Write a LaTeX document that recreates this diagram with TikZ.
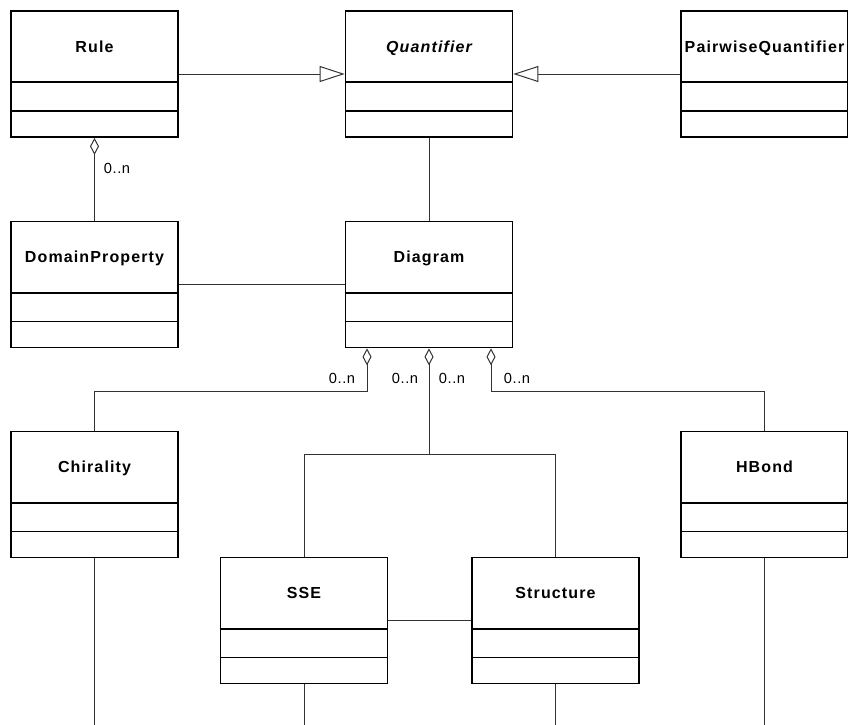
\documentclass[tikz,border=0pt]{standalone}
\usepackage{fontspec}
\setmainfont{Liberation Sans}
\newfontfamily\classfont[LetterSpace=7]{Liberation Sans}
\newfontfamily\multfont[LetterSpace=4]{Liberation Sans}
\usetikzlibrary{arrows.meta}

% class box: name, x, y, title
\newcommand{\classbox}[4]{%
  \node[umlclass] (#1) at (#2,#3) {};
  \node[classname] (#1-name) at ([yshift=-31.5pt]#1.north) {#4};
  \draw[line width=1.3pt]
    ([yshift=-54pt]#1.north west) -- ([yshift=-54pt]#1.north east)
    ([yshift=20.25pt]#1.south west) -- ([yshift=20.25pt]#1.south east);
}

\begin{document}
\begin{tikzpicture}[x=0.75pt, y=-0.75pt,
  umlclass/.style={draw, line width=1.3pt, minimum width=125.25pt,
    minimum height=94.5pt, inner sep=0pt},
  classname/.style={anchor=base, font=\classfont\bfseries\fontsize{12}{14}\selectfont},
  assoc/.style={draw=black!80, line width=0.75pt},
  inherit/.style={assoc, -{Triangle[open, length=18.75pt, width=12pt]}},
  aggreg/.style={assoc, {Diamond[open, length=12.75pt, width=6.75pt]}-},
  mult/.style={anchor=base, font=\multfont\fontsize{11}{13}\selectfont}]

  \useasboundingbox (0,0) rectangle (848,724);

  % classes
  \classbox{rule}{94.5}{74}{Rule}
  \classbox{quant}{429}{74}{\itshape Quantifier}
  \classbox{pairq}{764.5}{74}{PairwiseQuantifier}
  \classbox{domain}{94.5}{284.5}{DomainProperty}
  \classbox{diagram}{429}{284.5}{Diagram}
  \classbox{chir}{94.5}{494.5}{Chirality}
  \classbox{hbond}{764.5}{494.5}{HBond}
  \classbox{sse}{304}{620.5}{SSE}
  \classbox{struct}{555.5}{620.5}{Structure}

  % generalisation
  \draw[inherit] (rule.east) -- (quant.west);
  \draw[inherit] (pairq.west) -- (quant.east);

  % associations
  \draw[assoc] (quant.south) -- (diagram.north);
  \draw[assoc] (domain.east) -- (diagram.west);
  \draw[assoc] (sse.east) -- (struct.west);

  % aggregations
  \draw[aggreg] (rule.south) -- (domain.north);
  \node[mult] (m-rule) at (117,173) {0..n};

  \coordinate (agg-left) at ([xshift=-46.5pt]diagram.south);
  \coordinate (agg-right) at ([xshift=46.5pt]diagram.south);
  \draw[aggreg] (agg-left) -- ++(0,43) -| (chir.north);
  \draw[aggreg] (diagram.south) -- ++(0,106) coordinate (fork);
  \draw[assoc] (sse.north) |- (fork) -| (struct.north);
  \draw[aggreg] (agg-right) -- ++(0,43) -| (hbond.north);

  \node[mult] (m-chir) at (342,383) {0..n};
  \node[mult] (m-sse) at (405,383) {0..n};
  \node[mult] (m-struct) at (452,383) {0..n};
  \node[mult] (m-hbond) at (517,383) {0..n};

  % links leaving the page
  \draw[assoc] (chir.south) -- ++(0,170);
  \draw[assoc] (sse.south) -- ++(0,50);
  \draw[assoc] (struct.south) -- ++(0,50);
  \draw[assoc] (hbond.south) -- ++(0,170);

\end{tikzpicture}
\end{document}
